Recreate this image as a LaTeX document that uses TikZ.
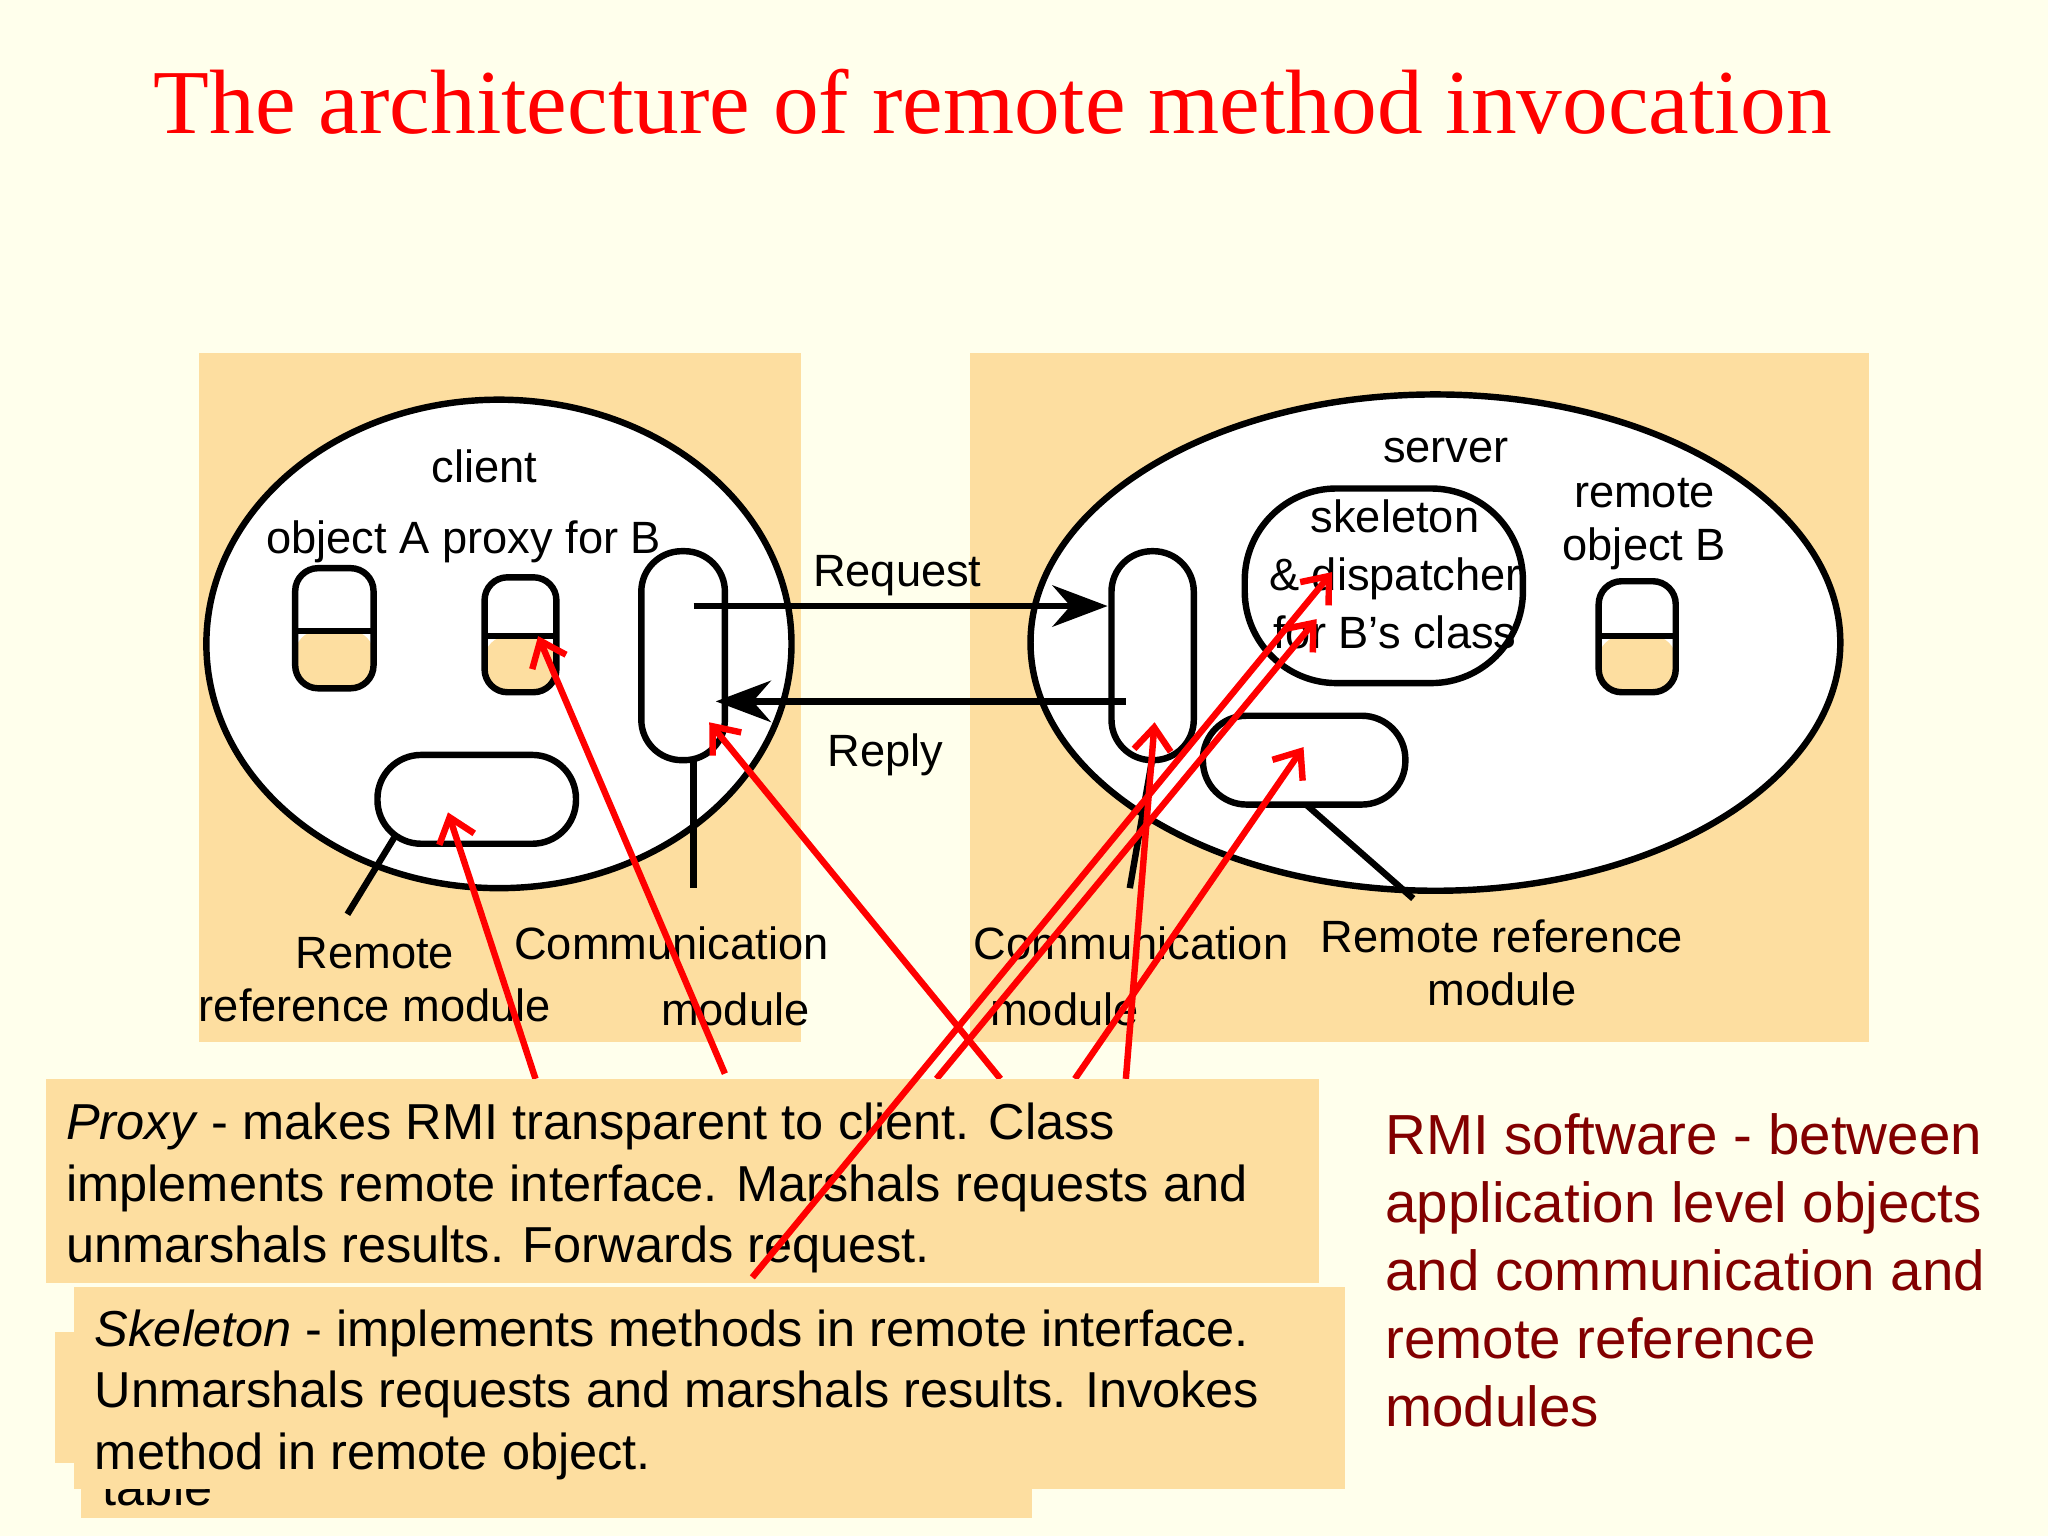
\documentclass[tikz,border=0pt]{standalone}
\usepackage{fontspec}
\setmainfont{Liberation Sans}
\newfontfamily\ttlfont{Liberation Serif}
\usetikzlibrary{arrows.meta}
\definecolor{bgc}{RGB}{255,255,236}
\definecolor{pan}{RGB}{253,222,160}
\definecolor{dred}{RGB}{130,0,0}
\begin{document}
\begin{tikzpicture}[x=0.01cm,y=-0.01cm,
 blk/.style={line width=1.4pt,draw=black},
 lab/.style={font=\fontsize{9.85}{11.6}\selectfont,align=center,inner sep=0},
 red/.style={draw=red,line width=1.4pt,-{Straight Barb[length=5pt,width=8pt,line width=1.4pt]}},
 box/.style={fill=pan,draw=none},
 btxt/.style={font=\fontsize{11}{13.4}\selectfont,align=left,anchor=north west,inner sep=0}]
\fill[bgc] (0,0) rectangle (1568,1176);
\useasboundingbox (0,0) rectangle (1568,1176);
\node[font=\ttlfont\fontsize{19.9}{23}\selectfont,text=red] (title) at (760,78) {The architecture of remote method invocation};
\fill[pan] (152,270) rectangle (613,798);
\fill[pan] (743,270) rectangle (1431,798);
% ellipses
\draw[blk,fill=white] (382,493) ellipse [x radius=224,y radius=187];
\draw[blk,fill=white] (1099,492) ellipse [x radius=310,y radius=190];
% objects
\foreach \xa/\xb/\ya/\ym/\yb/\nm in {226/286/435/483/527/oa,371/426/442/487/530/px,1224/1283/445/487/530/ob}{
 \fill[pan,rounded corners=5pt] (\xa,\ym) rectangle (\xb,\yb);
 \draw[blk] (\xa,\ym) -- (\xb,\ym);
 \draw[blk,rounded corners=5pt] (\xa,\ya) rectangle (\xb,\yb);
 \coordinate (\nm) at ({(\xa+\xb)/2},\ym);
}
% comm modules
\draw[blk,rounded corners=8.8pt] (491,422) rectangle (555,582);
\draw[blk,rounded corners=8.8pt] (851,422) rectangle (914,582);
\coordinate (lc1) at (531,582); \coordinate (lc2) at (531,680);
\draw[blk] (lc1) -- (lc2);
\coordinate (rc1) at (882,582); \coordinate (rc2) at (865,680);
\draw[blk] (rc1) -- (rc2);
% remote ref modules
\draw[blk,rounded corners=9.5pt] (289,578) rectangle (441,646);
\draw[blk,rounded corners=9.5pt] (921,548) rectangle (1076,616);
\coordinate (lr1) at (302,641); \coordinate (lr2) at (266,700);
\draw[blk] (lr1) -- (lr2);
\coordinate (rr1) at (1000,616); \coordinate (rr2) at (1082,688);
\draw[blk] (rr1) -- (rr2);
% skeleton
\draw[blk,rounded corners=20pt] (953,374) rectangle (1166,523);
% request/reply
\coordinate (q1) at (531,464); \coordinate (q2) at (848,464);
\draw[blk,-{Stealth[length=12pt,width=9pt]}] (q1) -- (q2);
\coordinate (p1) at (862,537); \coordinate (p2) at (548,537);
\draw[blk,-{Stealth[length=12pt,width=9pt]}] (p1) -- (p2);
% labels
\node[lab] (client) at (371,357) {client};
\node[lab] (oap) at (355,415) {object A proxy for B};
\node[lab] (req) at (687,441) {Request};
\node[lab] (rep) at (678,578) {Reply};
\node[lab] (srv) at (1107,345) {server};
\node[lab,align=center] (skl) at (1068,440) {skeleton\\[1pt]\& dispatcher\\[1pt]for B’s class};
\node[lab] (rob) at (1259,401) {remote\\object B};
\node[lab] (rrl) at (287,750) {Remote\\reference module};
\node[lab] (cl1) at (514,722) {Communication};
\node[lab] (cl2) at (563,773) {module};
\node[lab] (cr1) at (866,722) {Communication};
\node[lab] (cr2) at (815,773) {module};
\node[lab] (rrr) at (1150,737) {Remote reference\\module};
% red arrows behind boxes
\coordinate (a1) at (410,826); \coordinate (a1e) at (343,622);
\coordinate (a2) at (555,822); \coordinate (a2e) at (412,487);
\coordinate (a3) at (766,826); \coordinate (a3e) at (543,553);
\coordinate (a4) at (717,826); \coordinate (a4e) at (1008,474);
\coordinate (a5) at (862,826); \coordinate (a5e) at (884,553);
\coordinate (a6) at (823,826); \coordinate (a6e) at (998,572);
\foreach \s/\e in {a1/a1e,a2/a2e,a3/a3e,a4/a4e,a5/a5e,a6/a6e} \draw[red] (\s) -- (\e);
% hidden boxes
\fill[box] (62,985) rectangle (790,1162);
\fill[box] (42,1020) rectangle (120,1120);
\node[btxt] (tbl) at (78,1124) {table};
\fill[box] (57,985) rectangle (1030,1140);
\fill[box] (35,826) rectangle (1010,982);
\node[btxt] (ptx) at (50,844) {\textit{Proxy} - makes RMI transparent to client. Class\\implements remote interface. Marshals requests and\\unmarshals results. Forwards request.};
\node[btxt] (stx) at (72,1002) {\textit{Skeleton} - implements methods in remote interface.\\Unmarshals requests and marshals results. Invokes\\method in remote object.};
\coordinate (a7) at (576,978); \coordinate (a7e) at (1020,438);
\draw[red] (a7) -- (a7e);
\node[btxt,font=\fontsize{12.3}{14.8}\selectfont,text=dred] (rmi) at (1060,852) {RMI software - between\\application level objects\\and communication and\\remote reference\\modules};
\end{tikzpicture}
\end{document}
